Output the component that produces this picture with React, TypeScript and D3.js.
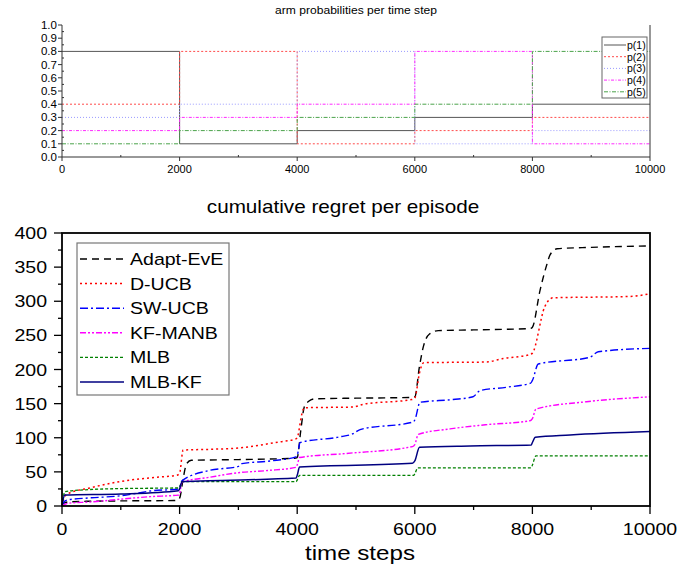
import * as d3 from "d3";
import React from "react";

// top panel: arm probabilities, piecewise constant between change points
const changePoints = [0, 2000, 4000, 6000, 8000, 10000];
const armNames = ["p(1)", "p(2)", "p(3)", "p(4)", "p(5)"];
const p1 = [0.8, 0.1, 0.2, 0.3, 0.4];
const p2 = [0.4, 0.8, 0.1, 0.2, 0.3];
const p3 = [0.3, 0.4, 0.8, 0.1, 0.2];
const p4 = [0.2, 0.3, 0.4, 0.8, 0.1];
const p5 = [0.1, 0.2, 0.3, 0.4, 0.8];

// bottom panel: cumulative regret [time step, regret]
const algoNames = ["Adapt-EvE", "D-UCB", "SW-UCB", "KF-MANB", "MLB", "MLB-KF"];
const adaptEvE = [[0,0],[30,4],[100,6],[500,7],[1000,7.5],[1900,8],[1980,9],[2010,14],[2060,40],[2120,62],[2200,67],[3000,68],[3950,70],[4000,71],[4060,110],[4120,145],[4190,153],[4300,157],[5000,158],[5900,159],[6000,160],[6080,205],[6150,235],[6250,252],[6400,257],[7000,258],[7960,260],[8000,262],[8130,316],[8250,355],[8300,368],[8420,377],[9000,379],[10000,381]];
const dUCB = [[0,0],[30,11],[100,18],[450,26],[1000,36],[1580,42],[1950,45],[2000,48],[2060,82],[2500,83],[3000,85],[3700,94],[3970,98],[4000,100],[4080,135],[4120,144],[4950,145],[5120,149],[5950,156],[6000,158],[6080,195],[6150,210],[7220,211],[7500,216],[7960,222],[8000,224],[8210,292],[8350,305],[9660,307],[10000,311]];
const swUCB = [[0,0],[30,6],[100,9],[500,12],[1000,15],[1300,19],[1500,22],[1980,25],[2000,27],[2040,37],[2500,52],[3000,58],[3060,62],[3540,66],[3980,72],[4000,74],[4050,93],[4700,101],[4950,106],[5070,112],[5970,123],[6000,126],[6090,152],[6650,156],[6990,160],[7110,169],[7560,174],[7970,180],[8000,184],[8100,208],[8980,218],[9120,226],[10000,231]];
const kfMANB = [[0,0],[30,1.5],[100,4],[500,6],[1000,10],[1500,13.7],[1980,16],[2000,18],[2040,35],[2500,42],[3000,48.8],[3500,52],[3980,56.6],[4000,60],[4040,71],[4840,77],[5960,87],[6000,90],[6060,105],[6600,113],[7200,119],[7960,125],[8000,128],[8060,142],[8920,152.8],[10000,160]];
const mlb = [[0,0],[20,12],[50,21],[450,24],[1000,25.5],[1980,26.5],[2000,28],[2040,35.6],[3980,35.6],[4000,38],[4040,45],[5980,45],[6000,47],[6050,56],[7980,56],[8000,60],[8060,73.3],[10000,73.3]];
const mlbKF = [[0,0],[20,10],[50,16],[1000,17.6],[1980,22.5],[2000,25],[2040,35.6],[2500,37],[3980,41],[4000,45],[4040,57],[5960,62.5],[6000,66],[6080,86],[6940,88],[7980,89.4],[8000,93],[8050,100.6],[8640,104],[10000,109]];

const FONT = "'Liberation Sans', Arial, sans-serif";

function Txt(props) {
  const { x, y, size, anchor = "start", sx = 1, children } = props;
  return (
    <text transform={`translate(${x},${y}) scale(${sx},1)`} fontSize={size}
      textAnchor={anchor} fontFamily={FONT} fill="#000">{children}</text>
  );
}

function TopPanel() {
  let x = d3.scaleLinear().domain([0, 10000]).range([62, 650]);
  let y = d3.scaleLinear().domain([0, 1]).range([157, 25]);
  const arms = [p1, p2, p3, p4, p5];
  const styles = [
    { stroke: "#555", dash: "none", w: 1 },
    { stroke: "#ff4a4a", dash: "2,2", w: 1 },
    { stroke: "#9a9aff", dash: "1,2", w: 1 },
    { stroke: "#ff2bff", dash: "3,1.5,1,1.5", w: 1 },
    { stroke: "#4aa34a", dash: "4,1.5,1,1.5", w: 1 },
  ];
  const line = d3.line().x((d) => x(d[0])).y((d) => y(d[1])).curve(d3.curveStepAfter);

  const yMajor = y.ticks(10);
  const yMinor = d3.range(0.05, 1, 0.1);
  const xMajor = x.ticks(5);
  const xMinor = d3.range(1000, 10000, 2000);

  return (
    <g>
      <Txt x={356} y={14} size={11} sx={1.1} anchor="middle">arm probabilities per time step</Txt>
      {arms.map((vals, i) => {
        let pts = vals.map((v, j) => [changePoints[j], v]);
        pts.push([10000, vals[vals.length - 1]]);
        return <path key={i} d={line(pts)} fill="none" stroke={styles[i].stroke}
          strokeWidth={styles[i].w} strokeDasharray={styles[i].dash} />;
      })}
      <line x1={62} x2={62} y1={25} y2={157} stroke="#333" />
      <line x1={62} x2={650} y1={157} y2={157} stroke="#333" />
      <line x1={650} x2={650} y1={25} y2={157} stroke="#333" />
      {yMajor.map((t) => (
        <g key={"ym" + t}>
          <line x1={58} x2={62} y1={y(t)} y2={y(t)} stroke="#333" />
          <Txt x={57} y={y(t) + 4} size={11} sx={1.05} anchor="end">{d3.format(".1f")(t)}</Txt>
        </g>
      ))}
      {yMinor.map((t) => <line key={"yn" + t} x1={62} x2={64} y1={y(t)} y2={y(t)} stroke="#333" />)}
      {xMajor.map((t) => (
        <g key={"xm" + t}>
          <line x1={x(t)} x2={x(t)} y1={157} y2={161} stroke="#333" />
          <Txt x={x(t)} y={173} size={11} anchor="middle">{t}</Txt>
        </g>
      ))}
      {xMinor.map((t) => <line key={"xn" + t} x1={x(t)} x2={x(t)} y1={155} y2={157} stroke="#333" />)}
      <g>
        <rect x={602} y={37} width={45} height={61} fill="#fff" stroke="#666" />
        {armNames.map((n, i) => {
          let ly = 45 + i * 11.7;
          return (
            <g key={n}>
              <line x1={604} x2={626} y1={ly} y2={ly} stroke={styles[i].stroke}
                strokeWidth={styles[i].w} strokeDasharray={styles[i].dash} />
              <Txt x={627} y={ly + 3.8} size={10.5}>{n}</Txt>
            </g>
          );
        })}
      </g>
    </g>
  );
}

function BottomPanel() {
  let x = d3.scaleLinear().domain([0, 10000]).range([62, 650]);
  let y = d3.scaleLinear().domain([0, 400]).range([506, 233]);
  const series = [adaptEvE, dUCB, swUCB, kfMANB, mlb, mlbKF];
  const styles = [
    { stroke: "#000", dash: "7,5", w: 1.4 },
    { stroke: "#ff0000", dash: "2,3", w: 1.5 },
    { stroke: "#0000ff", dash: "8,3,2,3", w: 1.4 },
    { stroke: "#ff00ff", dash: "6,2,2,2,2,2", w: 1.4 },
    { stroke: "#008000", dash: "3,2", w: 1.3 },
    { stroke: "#000080", dash: "none", w: 1.5 },
  ];
  const line = d3.line().x((d) => x(d[0])).y((d) => y(d[1])).curve(d3.curveMonotoneX);

  const yMajor = d3.range(0, 401, 50);
  const yMinor = d3.range(25, 400, 50);
  const xMajor = x.ticks(5);
  const xMinor = d3.range(1000, 10000, 2000);

  return (
    <g>
      <Txt x={343} y={213} size={18} sx={1.15} anchor="middle">cumulative regret per episode</Txt>
      {series.map((s, i) => (
        <path key={i} d={line(s)} fill="none" stroke={styles[i].stroke}
          strokeWidth={styles[i].w} strokeDasharray={styles[i].dash} />
      ))}
      <rect x={62} y={233} width={588} height={273} fill="none" stroke="#000" strokeWidth={1.8} />
      {yMajor.map((t) => (
        <g key={"ym" + t}>
          <line x1={54} x2={62} y1={y(t)} y2={y(t)} stroke="#000" strokeWidth={1.3} />
          <Txt x={47} y={y(t) + 6} size={17} sx={1.15} anchor="end">{t}</Txt>
        </g>
      ))}
      {yMinor.map((t) => <line key={"yn" + t} x1={58} x2={62} y1={y(t)} y2={y(t)} stroke="#000" strokeWidth={1.3} />)}
      {xMajor.map((t) => (
        <g key={"xm" + t}>
          <line x1={x(t)} x2={x(t)} y1={506} y2={514} stroke="#000" strokeWidth={1.3} />
          <Txt x={x(t)} y={535} size={17} sx={1.15} anchor="middle">{t}</Txt>
        </g>
      ))}
      {xMinor.map((t) => <line key={"xn" + t} x1={x(t)} x2={x(t)} y1={506} y2={510} stroke="#000" strokeWidth={1.3} />)}
      <Txt x={360} y={560} size={21} sx={1.15} anchor="middle">time steps</Txt>
      <g>
        <rect x={77} y={243} width={152} height={152} fill="#fff" stroke="#777" strokeWidth={1.2} />
        {algoNames.map((n, i) => {
          let ly = 259 + i * 24.6;
          return (
            <g key={n}>
              <line x1={80} x2={124} y1={ly} y2={ly} stroke={styles[i].stroke}
                strokeWidth={styles[i].w} strokeDasharray={styles[i].dash} />
              <Txt x={130} y={ly + 6} size={17} sx={1.15}>{n}</Txt>
            </g>
          );
        })}
      </g>
    </g>
  );
}

export default function App() {
  return (
    <svg width={692} height={572} style={{ position: "absolute", left: 0, top: 0, background: "#fff" }}>
      <rect width={692} height={572} fill="#fff" />
      <TopPanel />
      <BottomPanel />
    </svg>
  );
}
